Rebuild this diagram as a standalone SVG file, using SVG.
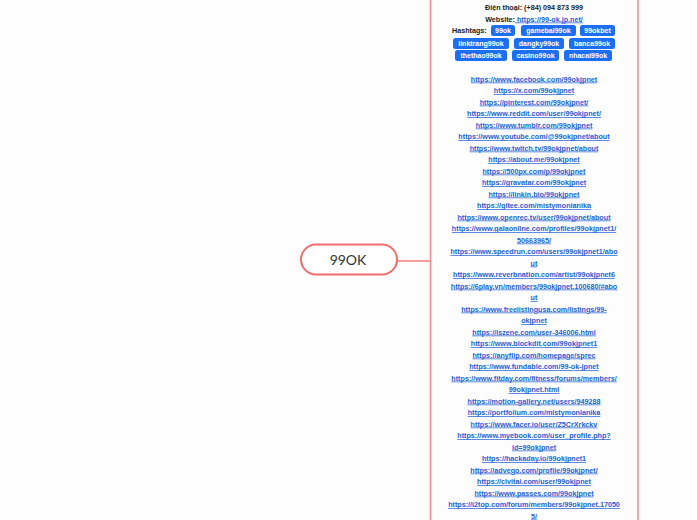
<svg xmlns="http://www.w3.org/2000/svg" width="697" height="520" viewBox="0 0 697 520">
<style>
.t{font-family:"Liberation Sans",Arial,sans-serif;font-size:7.2px;font-weight:bold;fill:#222}
.l{font-family:"Liberation Sans",Arial,sans-serif;font-size:7.2px;font-weight:bold;fill:#1f5fd6;text-decoration:underline;text-anchor:middle}
.pill{fill:#1c6ef2}
.pt{font-family:"Liberation Sans",Arial,sans-serif;font-size:7px;font-weight:bold;fill:#fff;text-anchor:middle}
.conn{stroke:#f47c7c;stroke-width:1.5;fill:none}
</style>
<rect width="697" height="520" fill="#fdfdfd"/>
<g id="connectors">
<line class="conn" x1="397" y1="261" x2="430" y2="261"/>
</g>
<g id="node-99ok">
<rect x="301" y="244.5" width="96" height="30" rx="15" fill="#fff" stroke="#f26d6d" stroke-width="2"/>
<text x="348" y="265" text-anchor="middle" style="font-family:Lato,'Open Sans',sans-serif;font-size:14px;fill:#333">99OK</text>
</g>
<g id="node-info">
<rect x="430.5" y="-20" width="207.5" height="560" fill="#fdfdfd" stroke="#f48a8a" stroke-width="1.5"/>
<text class="t" x="534" y="9.5" text-anchor="middle">Điện thoại: (+84) 094 873 999</text>
<text class="t" x="534" y="21.5" text-anchor="middle">Website:<tspan style="fill:#1f5fd6;text-decoration:underline"> https://99-ok.jp.net/</tspan></text>
<text class="t" x="452" y="33">Hashtags:</text>
<rect class="pill" x="491" y="25" width="24" height="11" rx="2.5"/><text class="pt" x="503" y="33">99ok</text>
<rect class="pill" x="521" y="25" width="55" height="11" rx="2.5"/><text class="pt" x="548.5" y="33">gamebai99ok</text>
<rect class="pill" x="580" y="25" width="35" height="11" rx="2.5"/><text class="pt" x="597.5" y="33">99okbet</text>
<rect class="pill" x="453" y="38" width="56" height="11" rx="2.5"/><text class="pt" x="481" y="46">linktrang99ok</text>
<rect class="pill" x="514" y="38" width="50" height="11" rx="2.5"/><text class="pt" x="539" y="46">dangky99ok</text>
<rect class="pill" x="569" y="38" width="46" height="11" rx="2.5"/><text class="pt" x="592" y="46">banca99ok</text>
<rect class="pill" x="455" y="50" width="52" height="11" rx="2.5"/><text class="pt" x="481" y="58">thethao99ok</text>
<rect class="pill" x="512" y="50" width="47" height="11" rx="2.5"/><text class="pt" x="535.5" y="58">casino99ok</text>
<rect class="pill" x="564" y="50" width="48" height="11" rx="2.5"/><text class="pt" x="588" y="58">nhacai99ok</text>
<text class="l" x="534" y="81.5">https://www.facebook.com/99okjpnet</text>
<text class="l" x="534" y="93">https://x.com/99okjpnet</text>
<text class="l" x="534" y="104.5">https://pinterest.com/99okjpnet/</text>
<text class="l" x="534" y="116">https://www.reddit.com/user/99okjpnet/</text>
<text class="l" x="534" y="127.5">https://www.tumblr.com/99okjpnet</text>
<text class="l" x="534" y="139">https://www.youtube.com/@99okjpnet/about</text>
<text class="l" x="534" y="150.5">https://www.twitch.tv/99okjpnet/about</text>
<text class="l" x="534" y="162">https://about.me/99okjpnet</text>
<text class="l" x="534" y="173.5">https://500px.com/p/99okjpnet</text>
<text class="l" x="534" y="185">https://gravatar.com/99okjpnet</text>
<text class="l" x="534" y="196.5">https://linkin.bio/99okjpnet</text>
<text class="l" x="534" y="208">https://gitee.com/mistymonianika</text>
<text class="l" x="534" y="219.5">https://www.openrec.tv/user/99okjpnet/about</text>
<text class="l" x="534" y="231">https://www.galaonline.com/profiles/99okjpnet1/</text>
<text class="l" x="534" y="242.5">50663965/</text>
<text class="l" x="534" y="254">https://www.speedrun.com/users/99okjpnet1/abo</text>
<text class="l" x="534" y="265.5">ut</text>
<text class="l" x="534" y="277">https://www.reverbnation.com/artist/99okjpnet6</text>
<text class="l" x="534" y="288.5">https://6play.vn/members/99okjpnet.100680/#abo</text>
<text class="l" x="534" y="300">ut</text>
<text class="l" x="534" y="311.5">https://www.freelistingusa.com/listings/99-</text>
<text class="l" x="534" y="323">okjpnet</text>
<text class="l" x="534" y="334.5">https://iszene.com/user-346006.html</text>
<text class="l" x="534" y="346">https://www.blockdit.com/99okjpnet1</text>
<text class="l" x="534" y="357.5">https://anyflip.com/homepage/sprec</text>
<text class="l" x="534" y="369">https://www.fundable.com/99-ok-jpnet</text>
<text class="l" x="534" y="380.5">https://www.fitday.com/fitness/forums/members/</text>
<text class="l" x="534" y="392">99okjpnet.html</text>
<text class="l" x="534" y="403.5">https://motion-gallery.net/users/949288</text>
<text class="l" x="534" y="415">https://portfolium.com/mistymonianika</text>
<text class="l" x="534" y="426.5">https://www.facer.io/user/Z5CrXrkckv</text>
<text class="l" x="534" y="438">https://www.myebook.com/user_profile.php?</text>
<text class="l" x="534" y="449.5">id=99okjpnet</text>
<text class="l" x="534" y="461">https://hackaday.io/99okjpnet1</text>
<text class="l" x="534" y="472.5">https://advego.com/profile/99okjpnet/</text>
<text class="l" x="534" y="484">https://civitai.com/user/99okjpnet</text>
<text class="l" x="534" y="495.5">https://www.passes.com/99okjpnet</text>
<text class="l" x="534" y="507">https://i2top.com/forum/members/99okjpnet.17050</text>
<text class="l" x="534" y="518.5">5/</text>
</g>
</svg>
